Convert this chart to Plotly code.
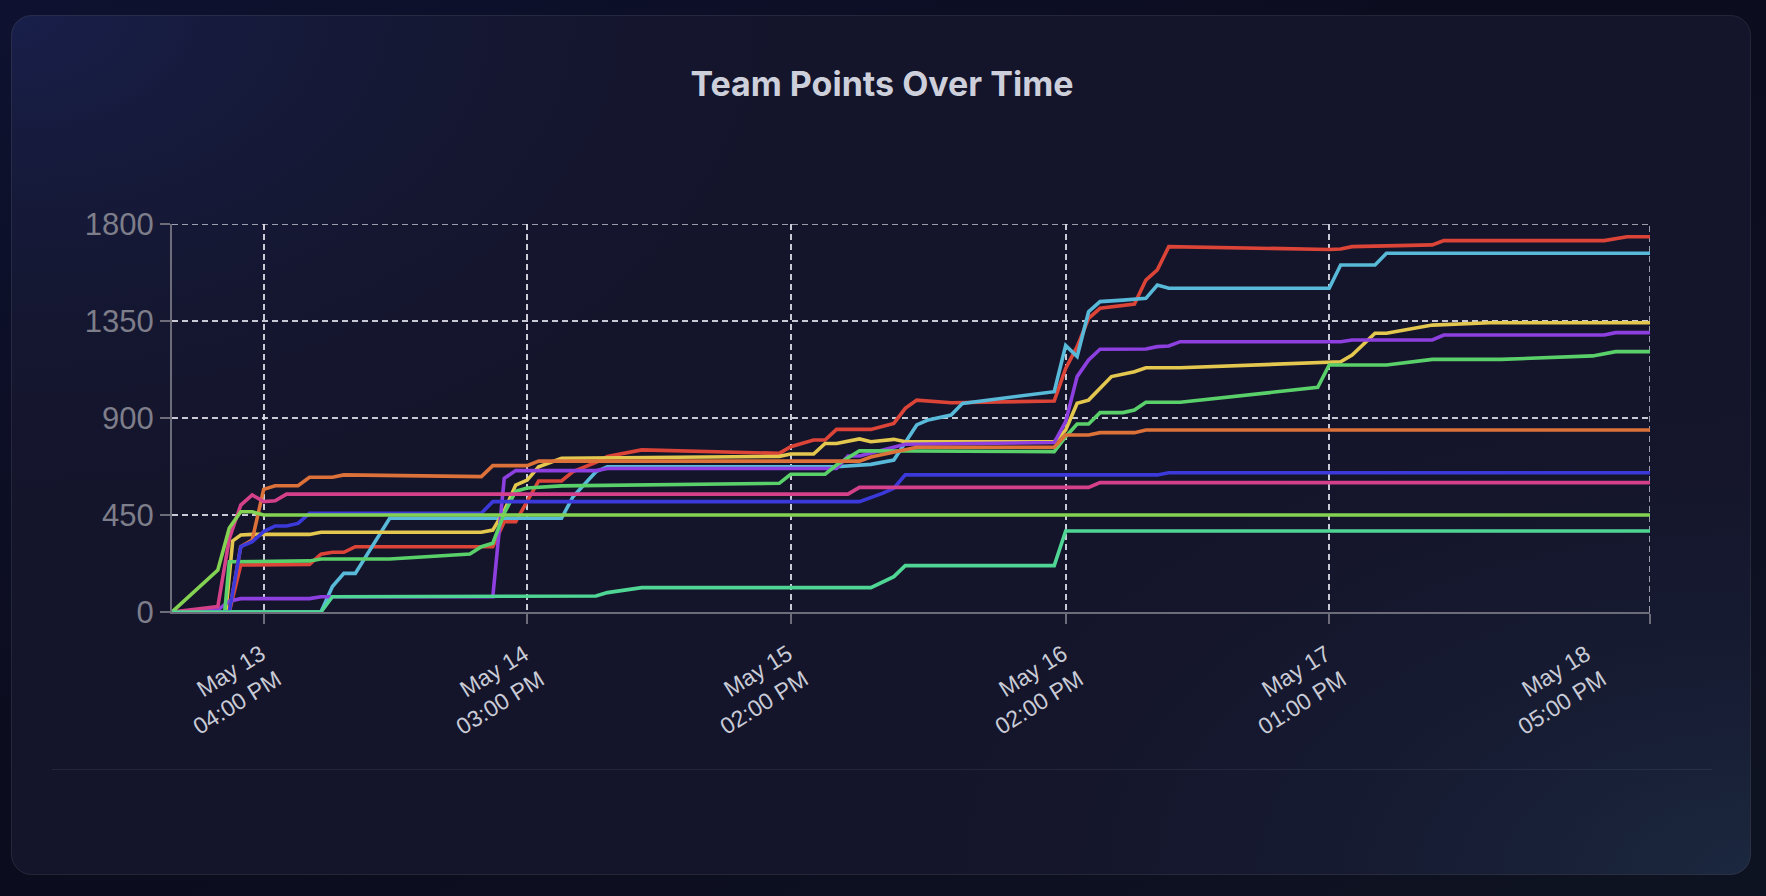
import base64
import pandas as pd
import plotly.graph_objects as go

# ---------------- data ----------------
START = pd.Timestamp("2024-05-13 08:00")
END = pd.Timestamp("2024-05-18 17:00")

team_names = ["Team 1", "Team 2", "Team 3", "Team 4", "Team 5",
              "Team 6", "Team 7", "Team 8", "Team 9", "Team 10"]
team_colors = ["#dc4438", "#58b9d8", "#e4c74e", "#8d3fe0", "#5ad06a",
               "#dc7139", "#3b39d9", "#d4408a", "#83d252", "#50d694"]

# hours since START and cumulative points at each change of slope
t1_hours = [0, 5, 6, 12, 13, 14, 15, 16, 28, 29, 30, 32, 34, 35, 37, 38, 41, 53, 54, 56, 57,
            58, 61, 63, 64, 65, 68, 77, 78, 79, 80, 81, 84, 85, 86, 87, 101, 102, 103, 110,
            111, 125, 127, 129]
t1_points = [0, 0, 218, 221, 268, 277, 277, 303, 303, 419, 419, 608, 608, 651, 694, 721, 752,
             736, 767, 798, 798, 847, 847, 875, 945, 983, 971, 979, 1130, 1231, 1362, 1409,
             1429, 1540, 1587, 1695, 1682, 1684, 1695, 1703, 1723, 1723, 1741, 1741]

t2_hours = [0, 13, 14, 15, 16, 19, 34, 35, 37, 38, 58, 61, 63, 65, 66, 68, 69, 77, 78, 79, 80,
            81, 83, 85, 86, 87, 101, 102, 105, 106, 129]
t2_points = [0, 0, 118, 179, 179, 435, 435, 535, 651, 674, 674, 685, 705, 868, 891, 914, 968,
             1022, 1236, 1185, 1393, 1440, 1447, 1455, 1517, 1502, 1502, 1610, 1610, 1664, 1664]

t3_hours = [0, 4.7, 5.3, 6, 7, 12, 13, 27, 28, 29, 30, 31, 32, 34, 53, 54, 56, 57, 58, 60, 61,
            63, 64, 77, 78, 79, 80, 81, 82, 84, 85, 88, 101, 102, 103, 105, 106, 110, 115, 129]
t3_points = [0, 0, 330, 357, 360, 360, 370, 370, 380, 470, 589, 612, 674, 713, 722, 733, 733,
             782, 782, 803, 790, 801, 790, 790, 844, 968, 983, 1038, 1092, 1115, 1133, 1133,
             1161, 1161, 1192, 1293, 1293, 1331, 1342, 1342]

t4_hours = [0, 4, 5, 6, 12, 13, 28, 29, 30, 37, 38, 58, 59, 60, 64, 77, 78, 79, 80, 81, 85, 86,
            87, 88, 102, 103, 110, 111, 125, 126, 129]
t4_points = [0, 10, 50, 62, 62, 71, 71, 620, 656, 656, 666, 666, 724, 724, 778, 786, 883, 1092,
             1169, 1219, 1220, 1231, 1234, 1254, 1254, 1262, 1262, 1285, 1285, 1296, 1296]

t5_hours = [0, 4.6, 5, 12, 13, 19, 26, 27, 28, 29, 30, 31, 34, 53, 54, 57, 58, 60, 77, 78, 79,
            80, 81, 83, 84, 85, 88, 100, 101, 106, 110, 116, 124, 126, 129]
t5_points = [0, 0, 233, 237, 246, 246, 269, 303, 319, 458, 560, 575, 585, 597, 639, 639, 682,
             748, 744, 813, 872, 872, 925, 925, 937, 973, 973, 1042, 1146, 1146, 1172, 1172,
             1188, 1208, 1208]

t6_hours = [0, 5, 6, 7, 8, 9, 11, 12, 14, 15, 27, 28, 31, 32, 60, 61, 65, 77, 78, 80, 81, 84,
            85, 129]
t6_points = [0, 0, 303, 334, 569, 586, 586, 625, 625, 636, 628, 679, 679, 700, 700, 719, 764,
             764, 821, 821, 832, 832, 844, 844]

t7_hours = [0, 5, 6, 7, 8, 9, 10, 11, 12, 27, 28, 60, 62, 63, 64, 86, 87, 129]
t7_points = [0, 0, 303, 326, 373, 399, 399, 411, 458, 458, 512, 512, 550, 574, 636, 636, 646,
             646]

t8_hours = [0, 4, 5, 6, 7, 8, 9, 10, 59, 60, 80, 81, 129]
t8_points = [0, 25, 340, 496, 543, 512, 516, 547, 547, 578, 578, 600, 600]

t9_hours = [0, 4, 5, 6, 7, 8, 129]
t9_points = [0, 195, 390, 465, 465, 450, 450]

t10_hours = [0, 13, 14, 37, 38, 41, 61, 63, 64, 77, 78, 129]
t10_points = [0, 0, 71, 74, 90, 113, 113, 164, 215, 215, 376, 376]

series_hours = [t1_hours, t2_hours, t3_hours, t4_hours, t5_hours,
                t6_hours, t7_hours, t8_hours, t9_hours, t10_hours]
series_points = [t1_points, t2_points, t3_points, t4_points, t5_points,
                 t6_points, t7_points, t8_points, t9_points, t10_points]

tick_times = ["2024-05-13 16:00", "2024-05-14 15:00", "2024-05-15 14:00",
              "2024-05-16 14:00", "2024-05-17 13:00", "2024-05-18 17:00"]
tick_text = ["May 13<br>04:00 PM", "May 14<br>03:00 PM", "May 15<br>02:00 PM",
             "May 16<br>02:00 PM", "May 17<br>01:00 PM", "May 18<br>05:00 PM"]
y_ticks = [0, 450, 900, 1350, 1800]

# ---------------- layout geometry / style ----------------
W, H = 1766, 896
ML, MR, MT, MB = 172, 116, 224, 284
PW, PH = W - ML - MR, H - MT - MB
label_xshift = [-35, -35, -35, -35, -35, -96]   # horizontal offset of each rotated label block
LABEL_YSHIFT = -78

fig = go.Figure()
for name, color, hrs, pts in zip(team_names, team_colors, series_hours, series_points):
    xs = START + pd.to_timedelta(hrs, unit="h")
    fig.add_trace(go.Scatter(x=xs, y=pts, mode="lines", name=name,
                             line=dict(color=color, width=3.6), showlegend=False))

svg = f'''<svg xmlns="http://www.w3.org/2000/svg" width="{W}" height="{H}" viewBox="0 0 {W} {H}">
<defs>
<linearGradient id="bg" x1="0" y1="0" x2="1" y2="1">
<stop offset="0" stop-color="#0e1230"/><stop offset="0.45" stop-color="#0b0c1d"/><stop offset="1" stop-color="#0e1322"/>
</linearGradient>
<radialGradient id="tl" gradientUnits="userSpaceOnUse" cx="0" cy="0" r="1" gradientTransform="translate(11 15) scale(900 560)">
<stop offset="0" stop-color="#181f4a" stop-opacity="1"/><stop offset="1" stop-color="#14152b" stop-opacity="0"/>
</radialGradient>
<radialGradient id="br" gradientUnits="userSpaceOnUse" cx="0" cy="0" r="1" gradientTransform="translate(1751 875) scale(900 520)">
<stop offset="0" stop-color="#1b283f" stop-opacity="1"/><stop offset="1" stop-color="#14152b" stop-opacity="0"/>
</radialGradient>
</defs>
<rect x="0" y="0" width="{W}" height="{H}" fill="url(#bg)"/>
<rect x="11.5" y="15.5" width="1739" height="859" rx="20" ry="20" fill="#14152b"/>
<rect x="11.5" y="15.5" width="1739" height="859" rx="20" ry="20" fill="url(#tl)"/>
<rect x="11.5" y="15.5" width="1739" height="859" rx="20" ry="20" fill="url(#br)"/>
<rect x="11.5" y="15.5" width="1739" height="859" rx="20" ry="20" fill="none" stroke="#ffffff" stroke-opacity="0.09" stroke-width="1"/>
<line x1="52" y1="769.5" x2="1712" y2="769.5" stroke="#ffffff" stroke-opacity="0.07" stroke-width="1"/>
</svg>'''
src = "data:image/svg+xml;base64," + base64.b64encode(svg.encode()).decode()

fig.add_layout_image(dict(source=src, xref="paper", yref="paper",
                          x=-ML / PW, y=1 + MT / PH, sizex=W / PW, sizey=H / PH,
                          xanchor="left", yanchor="top", sizing="stretch", layer="below"))

grid_color = "rgba(228,228,238,0.88)"
axis_color = "#6c6c7a"
DASH = "6px,4px"

# grid lines at the range edges (Plotly omits these)
fig.add_shape(type="line", xref="x", yref="y", x0=START, x1=END, y0=y_ticks[-1], y1=y_ticks[-1],
              line=dict(color=grid_color, width=1.5, dash=DASH), layer="below")
fig.add_shape(type="line", xref="x", yref="y", x0=tick_times[-1], x1=tick_times[-1],
              y0=y_ticks[0], y1=y_ticks[-1],
              line=dict(color=grid_color, width=1.5, dash=DASH), layer="below")

# rotated two-line x tick labels
for t, txt, dx in zip(tick_times, tick_text, label_xshift):
    fig.add_annotation(x=t, xref="x", y=0, yref="paper", text=txt, showarrow=False,
                       textangle=-32, xanchor="center", yanchor="middle",
                       xshift=dx, yshift=LABEL_YSHIFT, align="right",
                       font=dict(family="Liberation Sans", size=23, color="#c9cbd6"))

fig.update_layout(
    width=W, height=H,
    margin=dict(l=ML, r=MR, t=MT, b=MB),
    paper_bgcolor="#0c0d1e",
    plot_bgcolor="rgba(0,0,0,0)",
    title=dict(text="Team Points Over Time", x=0.4994, xref="container", xanchor="center",
               y=1 - 84 / H, yref="container", yanchor="middle",
               font=dict(family="Inter", size=34, color="#cdcfdb", weight=700)),
    xaxis=dict(type="date", range=[START, END], tickvals=tick_times, ticktext=tick_text,
               showticklabels=False, showgrid=True, gridcolor=grid_color, griddash=DASH,
               gridwidth=1.5, showline=True, linecolor=axis_color, linewidth=2,
               ticks="outside", ticklen=10, tickcolor=axis_color, tickwidth=1.5,
               zeroline=False),
    yaxis=dict(range=[0, 1800], tickvals=y_ticks, showgrid=True, gridcolor=grid_color,
               griddash=DASH, gridwidth=1.5, showline=True, linecolor=axis_color,
               linewidth=2, ticks="outside", ticklen=10, tickcolor=axis_color, tickwidth=1.5,
               zeroline=False,
               tickfont=dict(family="Liberation Sans", size=31, color="#7e7e8a")),
)

fig.write_html("out.html")
